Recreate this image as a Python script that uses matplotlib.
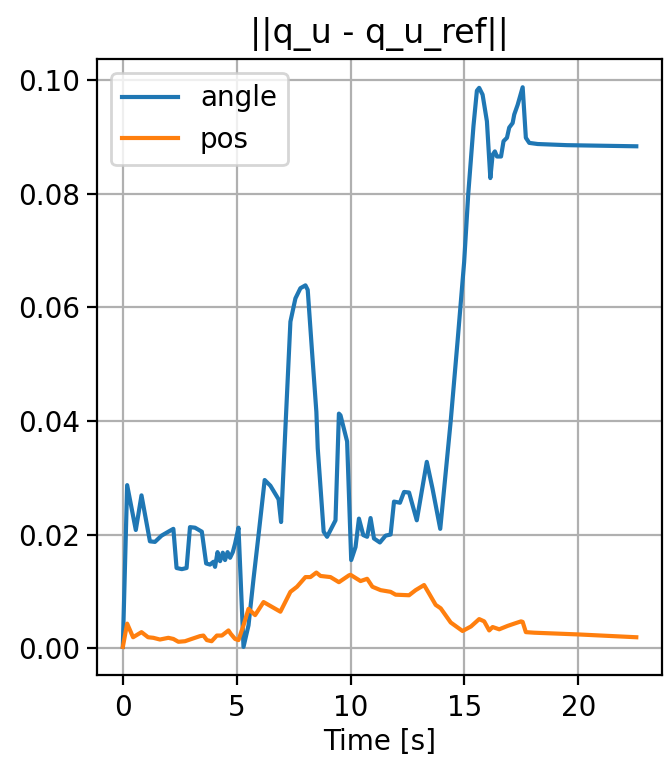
import matplotlib
matplotlib.use('Agg')
import matplotlib.pyplot as plt

# angle error (blue)
t_angle = [0.0, 0.19, 0.57, 0.82, 1.19, 1.41, 1.70, 2.0, 2.22, 2.36, 2.59, 2.8, 2.95, 3.17, 3.47,
           3.66, 3.83, 3.98, 4.05, 4.16, 4.27, 4.39, 4.49, 4.6, 4.71, 4.83, 4.93, 5.08, 5.3,
           5.52, 5.74, 5.96, 6.23, 6.48, 6.84, 6.95, 7.14, 7.36, 7.58, 7.8, 8.02, 8.12, 8.31,
           8.5, 8.56, 8.82, 8.97, 9.34, 9.49, 9.56, 9.85, 10.03, 10.22, 10.37, 10.56, 10.73,
           10.88, 11.03, 11.29, 11.54, 11.76, 11.91, 12.17, 12.35, 12.57, 12.91, 13.35, 13.6,
           13.94, 14.4, 14.7, 14.99, 15.17, 15.4, 15.55, 15.65, 15.8, 15.99, 16.14, 16.24,
           16.34, 16.43, 16.61, 16.72, 16.87, 16.97, 17.12, 17.19, 17.34, 17.56, 17.7, 17.85,
           18.22, 19.5, 21.0, 22.55]
angle = [0.0002, 0.0287, 0.0208, 0.0269, 0.0188, 0.0187, 0.0198, 0.0205, 0.0210, 0.0141,
         0.0139, 0.0141, 0.0213, 0.0212, 0.0205, 0.0149, 0.0147, 0.0152, 0.0143, 0.0169,
         0.0153, 0.0168, 0.0155, 0.0169, 0.0159, 0.0169, 0.0184, 0.0212, 0.0002, 0.0040,
         0.0122, 0.0199, 0.0296, 0.0286, 0.0262, 0.0222, 0.0387, 0.0575, 0.0616, 0.0634,
         0.0639, 0.0631, 0.0522, 0.0416, 0.0352, 0.0205, 0.0196, 0.0225, 0.0413, 0.0410,
         0.0364, 0.0155, 0.0178, 0.0228, 0.0199, 0.0196, 0.0229, 0.0193, 0.0186, 0.0198,
         0.0200, 0.0258, 0.0256, 0.0275, 0.0274, 0.0225, 0.0328, 0.0281, 0.0210, 0.0400,
         0.0540, 0.0680, 0.0800, 0.0920, 0.0982, 0.0987, 0.0975, 0.0928, 0.0828, 0.0869,
         0.0875, 0.0866, 0.0866, 0.0893, 0.0899, 0.0917, 0.0925, 0.0940, 0.0957, 0.0988,
         0.0899, 0.0890, 0.0888, 0.0886, 0.0885, 0.0884]

# position error (orange)
t_pos = [0.0, 0.19, 0.45, 0.82, 1.11, 1.34, 1.63, 2.0, 2.22, 2.44, 2.73, 3.02, 3.39, 3.54,
         3.69, 3.9, 4.13, 4.35, 4.64, 4.74, 4.93, 5.08, 5.3, 5.52, 5.81, 6.18, 6.92, 7.36,
         7.65, 8.02, 8.24, 8.5, 8.68, 9.12, 9.49, 9.93, 10.0, 10.44, 10.73, 10.96, 11.32,
         11.76, 11.98, 12.57, 12.86, 13.23, 13.45, 13.74, 13.96, 14.4, 14.92, 15.29, 15.65,
         15.87, 16.09, 16.24, 16.53, 16.9, 17.19, 17.49, 17.56, 17.7, 18.07, 19.98, 22.55]
pos = [0.0002, 0.0043, 0.0019, 0.0028, 0.0019, 0.0018, 0.0015, 0.0018, 0.0016, 0.0011,
       0.0012, 0.0016, 0.0021, 0.0022, 0.0014, 0.0012, 0.0022, 0.0022, 0.0031, 0.0025,
       0.0016, 0.0014, 0.0040, 0.0069, 0.0058, 0.0081, 0.0064, 0.0099, 0.0108, 0.0125,
       0.0125, 0.0133, 0.0127, 0.0125, 0.0116, 0.0128, 0.0129, 0.0118, 0.0122, 0.0108,
       0.0102, 0.0099, 0.0094, 0.0093, 0.0102, 0.0111, 0.0096, 0.0076, 0.0070, 0.0045,
       0.0030, 0.0038, 0.0051, 0.0047, 0.0031, 0.0037, 0.0033, 0.0039, 0.0043, 0.0047,
       0.0046, 0.0028, 0.0027, 0.0024, 0.0019]

fig, ax = plt.subplots(figsize=(3.35, 3.8), dpi=200)
ax.plot(t_angle, angle, label='angle')
ax.plot(t_pos, pos, label='pos')
ax.set_title('||q_u - q_u_ref||')
ax.set_xlabel('Time [s]', labelpad=2)
ax.tick_params(axis='y', pad=2.5)
ax.grid(True)
ax.legend(loc='upper left')

plt.subplots_adjust(left=0.145, right=0.988, top=0.922, bottom=0.112)
plt.savefig('out.png', dpi=200)
